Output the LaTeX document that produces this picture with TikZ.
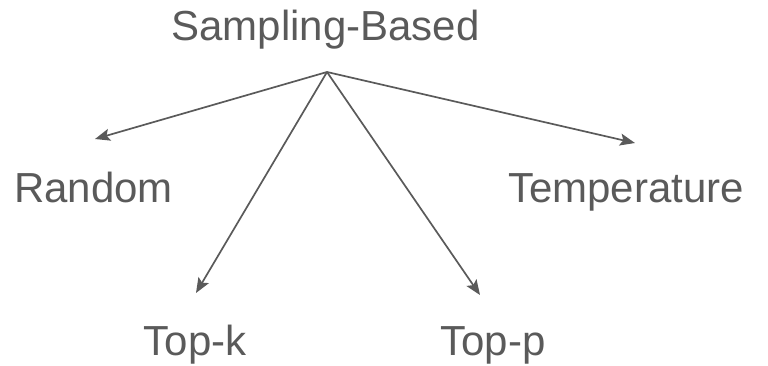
\documentclass[tikz,border=0pt]{standalone}
\usepackage{fontspec}
\setmainfont{Liberation Sans}
\usetikzlibrary{arrows.meta}
\definecolor{ink}{HTML}{5A5A5A}
\tikzset{
  lbl/.style={anchor=base, inner sep=0pt, text=ink, font=\fontsize{42}{50}\selectfont},
  link/.style={draw=ink, line width=1.7pt, -{Stealth[length=15pt,width=12pt,inset=3pt]}}
}
\begin{document}
\begin{tikzpicture}[x=1pt,y=-1pt]
\useasboundingbox (0,0) rectangle (768,365);
\node[lbl] (root) at (325.5,40) {Sampling-Based};
\node[lbl] (random) at (93.5,202) {Random};
\node[lbl] (temp) at (626,202) {Temperature};
\node[lbl] (topk) at (195,355) {Top-k};
\node[lbl] (topp) at (493,355) {Top-p};
\coordinate (apex) at (327,72);
\coordinate (rT) at (95,139);
\coordinate (kT) at (196,293);
\coordinate (pT) at (480,295);
\coordinate (tT) at (635,143);
\draw[link] (apex) -- (rT);
\draw[link] (apex) -- (kT);
\draw[link] (apex) -- (pT);
\draw[link] (apex) -- (tT);
\end{tikzpicture}
\end{document}
